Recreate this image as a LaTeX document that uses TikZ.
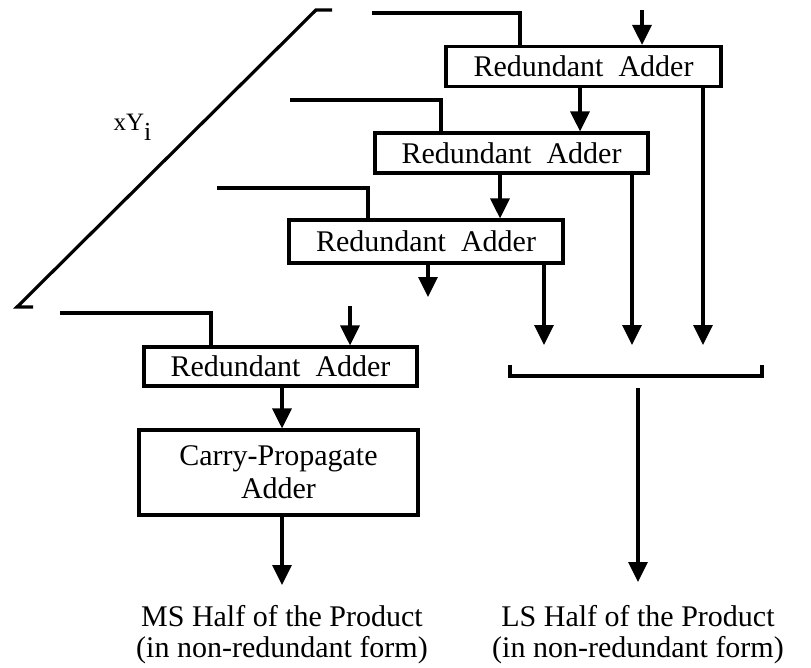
\documentclass[tikz,border=0pt]{standalone}
\usepackage{fontspec}
\setmainfont{Liberation Serif}
\usetikzlibrary{arrows.meta}
\newcommand\RAtext{Redundant\hspace{0.5em}Adder}
\begin{document}
\begin{tikzpicture}[x=1pt,y=-1pt, line width=3.2pt,
  adder/.style={draw, minimum height=40pt, inner sep=0pt, font=\fontsize{30}{33}\selectfont},
  arr/.style={-{Triangle[width=19pt,length=20pt]}},
  lbl/.style={font=\fontsize{30}{31}\selectfont, align=center, inner sep=0pt}]
\useasboundingbox (0,0) rectangle (811,667);

% adders
\node[adder, minimum width=275pt] (ra1) at (583.5,66.5) {\RAtext};
\node[adder, minimum width=273pt] (ra2) at (511.5,153) {\RAtext};
\node[adder, minimum width=274pt, minimum height=43pt] (ra3) at (426,241.5) {\RAtext};
\node[adder, minimum width=273pt, minimum height=39pt] (ra4) at (280.5,366.5) {\RAtext};
\node[adder, minimum width=279pt, minimum height=85pt, align=center] (cpa) at (278.5,472.5) {Carry-Propagate\\Adder};

% xY_i diagonal
\coordinate (d1) at (332,10);
\coordinate (d2) at (316,10);
\coordinate (d3) at (17,307);
\coordinate (d4) at (33,307);
\draw (d1) -- (d2) -- (d3) -- (d4);
\node[anchor=base west, inner sep=0pt, font=\fontsize{25}{27}\selectfont] (xy) at (112,130) {xY\raisebox{-10pt}{\fontsize{26}{26}\selectfont i}};

% feed lines
\coordinate (f1) at (372,13);  \coordinate (f1c) at (520,13);
\coordinate (f2) at (290,100); \coordinate (f2c) at (441,100);
\coordinate (f3) at (217,188); \coordinate (f3c) at (368,188);
\coordinate (f4) at (60,313);  \coordinate (f4c) at (211,313);
\draw (f1) -- (f1c) -- (f1c |- ra1.north);
\draw (f2) -- (f2c) -- (f2c |- ra2.north);
\draw (f3) -- (f3c) -- (f3c |- ra3.north);
\draw (f4) -- (f4c) -- (f4c |- ra4.north);

% inputs
\coordinate (in1) at (642,10);
\coordinate (in4) at (350,306);
\draw[arr] (in1) -- (in1 |- ra1.north);
\draw[arr] (in4) -- (in4 |- ra4.north);

% chain
\coordinate (c12) at (580,0);
\coordinate (c23) at (500,0);
\draw[arr] (c12 |- ra1.south) -- (c12 |- ra2.north);
\draw[arr] (c23 |- ra2.south) -- (c23 |- ra3.north);
\coordinate (o3a) at (428,297);
\draw[arr] (o3a |- ra3.south) -- (o3a);

% long outputs
\coordinate (o1) at (703,345);
\coordinate (o2) at (632,345);
\coordinate (o3) at (544,345);
\draw[arr] (o1 |- ra1.south) -- (o1);
\draw[arr] (o2 |- ra2.south) -- (o2);
\draw[arr] (o3 |- ra3.south) -- (o3);

% bracket
\coordinate (b1) at (510,365);
\coordinate (b2) at (510,376);
\coordinate (b3) at (762,376);
\coordinate (b4) at (762,365);
\draw (b1) -- (b2) -- (b3) -- (b4);

% to CPA and outputs
\coordinate (c4) at (282,0);
\draw[arr] (c4 |- ra4.south) -- (c4 |- cpa.north);
\coordinate (msend) at (282,585);
\draw[arr] (c4 |- cpa.south) -- (msend);
\node[lbl, anchor=north] (ms) at (282,604) {MS Half of the Product\\(in non-redundant form)};

\coordinate (ls0) at (638,388);
\coordinate (ls1) at (638,582);
\draw[arr] (ls0) -- (ls1);
\node[lbl, anchor=north] (ls) at (638,604) {LS Half of the Product\\(in non-redundant form)};
\end{tikzpicture}
\end{document}
